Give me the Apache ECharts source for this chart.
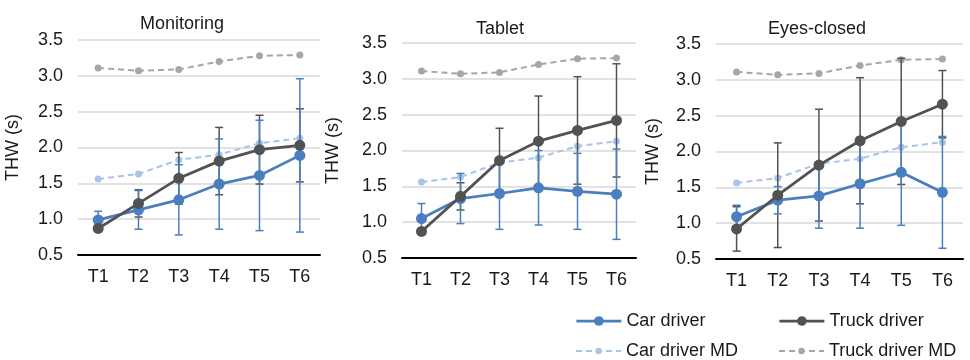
<!DOCTYPE html>
<html>
<head>
<meta charset="utf-8">
<script src="https://cdn.jsdelivr.net/npm/echarts@6/dist/echarts.min.js"></script>
<style>html,body{margin:0;padding:0;background:#fff}#c{width:970px;height:360px}</style>
</head>
<body>
<div id="c"></div>
<script>
var categories = ['T1','T2','T3','T4','T5','T6'];
var yTicks = [0.5, 1.0, 1.5, 2.0, 2.5, 3.0, 3.5];
var panelTitles = ['Monitoring', 'Tablet', 'Eyes-closed'];
var legendNames = ['Car driver', 'Truck driver', 'Car driver MD', 'Truck driver MD'];

var carMD = [1.56, 1.63, 1.83, 1.90, 2.06, 2.13];
var truckMD = [3.11, 3.07, 3.09, 3.20, 3.28, 3.29];

var monCar = [0.99, 1.13, 1.27, 1.49, 1.61, 1.89];
var monCarSD = [0.12, 0.27, 0.49, 0.63, 0.77, 1.07];
var monTruck = [0.87, 1.22, 1.57, 1.81, 1.97, 2.03];
var monTruckSD = [0.04, 0.19, 0.36, 0.47, 0.48, 0.51];

var tabCar = [1.05, 1.33, 1.40, 1.48, 1.43, 1.39];
var tabCarSD = [0.21, 0.35, 0.50, 0.52, 0.53, 0.63];
var tabTruck = [0.87, 1.36, 1.86, 2.13, 2.28, 2.42];
var tabTruckSD = [0.04, 0.19, 0.45, 0.63, 0.75, 0.79];

var eyeCar = [1.09, 1.32, 1.38, 1.55, 1.71, 1.43];
var eyeCarSD = [0.16, 0.19, 0.45, 0.62, 0.74, 0.78];
var eyeTruck = [0.92, 1.39, 1.81, 2.15, 2.42, 2.66];
var eyeTruckSD = [0.31, 0.73, 0.78, 0.88, 0.88, 0.47];

var FONT = 'Liberation Sans, Arial, sans-serif';
var BLUE = '#4a7ebf', DARK = '#525252', LBLUE = '#a9c4e6', LGRAY = '#a6a6a6';
var TXT = '#1a1a1a';

var panels = [
  {car: monCar, carSD: monCarSD, truck: monTruck, truckSD: monTruckSD},
  {car: tabCar, carSD: tabCarSD, truck: tabTruck, truckSD: tabTruckSD},
  {car: eyeCar, carSD: eyeCarSD, truck: eyeTruck, truckSD: eyeTruckSD}
];
var grids = [
  {left: 78, top: 40, width: 242, height: 215},
  {left: 402, top: 43, width: 234, height: 215},
  {left: 716, top: 44, width: 247, height: 215}
];
var nameGaps = [56, 60, 54];
var titlePos = [{x: 177, y: 10}, {x: 495, y: 15}, {x: 812, y: 15}];
var legendPos = [{x: 575, y: 312}, {x: 778, y: 312}, {x: 575, y: 342}, {x: 778, y: 342}];
var legendIcon = [12, 12, 8, 8];
var legendLineW = [2.75, 2.75, 2, 2];

function errData(vals, sd) {
  return vals.map(function (v, i) { return [i, v - sd[i], v + sd[i]]; });
}
function errSeries(idx, vals, sd, color) {
  return {
    type: 'custom', xAxisIndex: idx, yAxisIndex: idx, z: 4, silent: true,
    data: errData(vals, sd), encode: {x: 0, y: [1, 2]},
    renderItem: function (params, api) {
      var lo = api.coord([api.value(0), api.value(1)]);
      var hi = api.coord([api.value(0), api.value(2)]);
      var w = 4;
      var st = {stroke: color, lineWidth: 1.5};
      return {type: 'group', children: [
        {type: 'line', shape: {x1: lo[0], y1: lo[1], x2: hi[0], y2: hi[1]}, style: st},
        {type: 'line', shape: {x1: lo[0]-w, y1: lo[1], x2: lo[0]+w, y2: lo[1]}, style: st},
        {type: 'line', shape: {x1: hi[0]-w, y1: hi[1], x2: hi[0]+w, y2: hi[1]}, style: st}
      ]};
    }
  };
}

var option = {
  backgroundColor: '#fff',
  animation: false,
  textStyle: {fontFamily: FONT},
  title: panelTitles.map(function (t, i) {
    return {text: t, left: titlePos[i].x, top: titlePos[i].y, textAlign: 'center',
      textStyle: {fontFamily: FONT, fontSize: 18, fontWeight: 'normal', color: TXT}};
  }),
  legend: legendNames.map(function (n, i) {
    return {left: legendPos[i].x, top: legendPos[i].y, orient: 'horizontal',
      itemWidth: 45, itemHeight: legendIcon[i], padding: 0, selectedMode: false,
      lineStyle: {width: legendLineW[i]},
      data: [n],
      textStyle: {fontFamily: FONT, fontSize: 18, color: TXT}};
  }),
  grid: grids,
  xAxis: grids.map(function (g, i) {
    return {type: 'category', gridIndex: i, data: categories, boundaryGap: true,
      axisLine: {show: true, lineStyle: {color: '#000', width: 2}},
      axisTick: {show: false},
      axisLabel: {fontFamily: FONT, fontSize: 18, color: TXT, margin: 13},
      splitLine: {show: false}};
  }),
  yAxis: grids.map(function (g, i) {
    return {type: 'value', gridIndex: i, min: yTicks[0], max: yTicks[yTicks.length - 1], interval: 0.5,
      name: 'THW (s)', nameLocation: 'middle', nameGap: nameGaps[i], nameRotate: 90,
      nameTextStyle: {fontFamily: FONT, fontSize: 18, color: TXT},
      axisLine: {show: false}, axisTick: {show: false},
      axisLabel: {fontFamily: FONT, fontSize: 18, color: TXT, margin: 15,
        formatter: function (v) { return v.toFixed(1); }},
      splitLine: {show: true, lineStyle: {color: '#d9d9d9', width: 1.5}}};
  }),
  series: []
};

panels.forEach(function (p, i) {
  option.series.push({name: 'Car driver MD', type: 'line', xAxisIndex: i, yAxisIndex: i, data: carMD,
    symbol: 'circle', symbolSize: 7, z: 2,
    lineStyle: {color: LBLUE, width: 2, type: [6, 4]}, itemStyle: {color: LBLUE}});
  option.series.push({name: 'Truck driver MD', type: 'line', xAxisIndex: i, yAxisIndex: i, data: truckMD,
    symbol: 'circle', symbolSize: 7, z: 2,
    lineStyle: {color: LGRAY, width: 2, type: [6, 4]}, itemStyle: {color: LGRAY}});
  option.series.push(errSeries(i, p.truck, p.truckSD, DARK));
  option.series.push(errSeries(i, p.car, p.carSD, BLUE));
  option.series.push({name: 'Car driver', type: 'line', xAxisIndex: i, yAxisIndex: i, data: p.car,
    symbol: 'circle', symbolSize: 11, z: 5,
    lineStyle: {color: BLUE, width: 2.75}, itemStyle: {color: BLUE}});
  option.series.push({name: 'Truck driver', type: 'line', xAxisIndex: i, yAxisIndex: i, data: p.truck,
    symbol: 'circle', symbolSize: 11, z: 6,
    lineStyle: {color: DARK, width: 2.75}, itemStyle: {color: DARK}});
});

var chart = echarts.init(document.getElementById('c'), null, {renderer: 'canvas'});
chart.setOption(option);
</script>
</body>
</html>
